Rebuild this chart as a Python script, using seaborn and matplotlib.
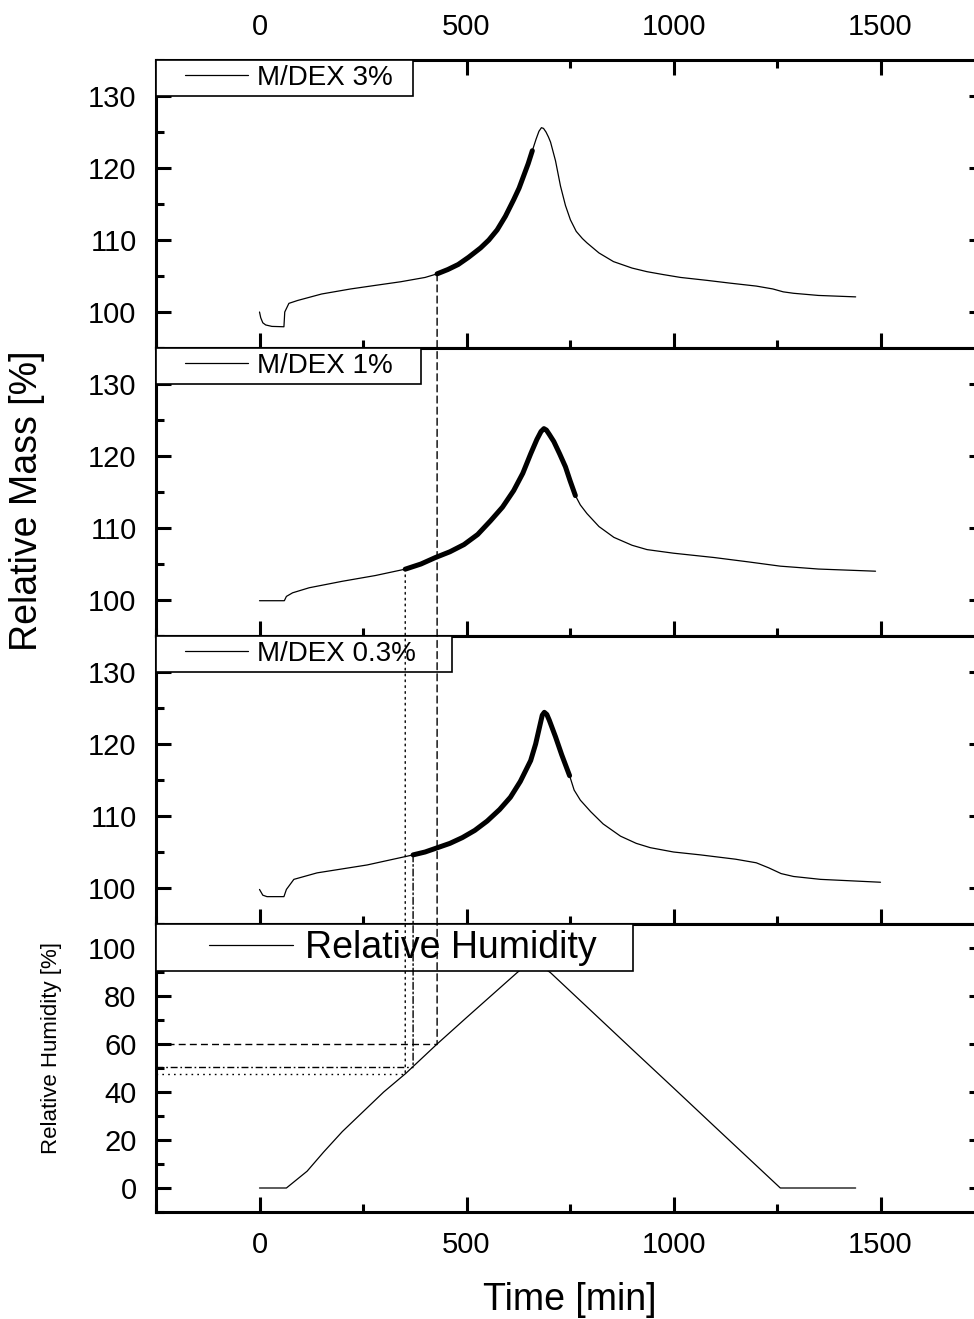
import matplotlib.pyplot as plt
from matplotlib.legend_handler import HandlerLine2D
from matplotlib.lines import Line2D
from matplotlib.patches import ConnectionPatch
from matplotlib.ticker import MultipleLocator
import numpy as np
import seaborn as sns

sns.set_style("ticks")
plt.rcParams['font.family'] = ['Liberation Sans', 'DejaVu Sans']
for k in ["text.color", "axes.labelcolor", "xtick.color", "ytick.color", "axes.edgecolor"]:
    plt.rcParams[k] = "black"

# Dados (tempo em min, massa relativa em %)
t_3 = [0, 3, 8, 15, 30, 59, 61, 71, 92, 150, 220, 280, 341, 400, 429, 455, 480, 505,
       534, 554, 574, 594, 614, 627, 638, 649, 659, 668, 675, 681, 686, 692, 698, 703,
       715, 727, 739, 751, 765, 780, 791, 820, 855, 900, 936, 975, 1017, 1080, 1138,
       1200, 1240, 1265, 1290, 1350, 1440]
m_3 = [100.0, 99.2, 98.5, 98.2, 98.0, 97.95, 100.0, 101.2, 101.6, 102.5, 103.2, 103.7,
       104.2, 104.8, 105.3, 105.9, 106.6, 107.6, 108.9, 110.0, 111.4, 113.3, 115.6,
       117.2, 118.9, 120.6, 122.4, 124.0, 125.1, 125.6, 125.5, 125.0, 124.3, 123.6,
       121.0, 117.5, 114.8, 112.8, 111.2, 110.2, 109.6, 108.2, 107.0, 106.1, 105.6,
       105.2, 104.8, 104.4, 104.0, 103.6, 103.2, 102.8, 102.6, 102.3, 102.1]

t_1 = [0, 30, 60, 65, 80, 120, 200, 280, 353, 390, 425, 460, 494, 527, 558, 587, 614,
       636, 655, 670, 680, 687, 693, 700, 711, 725, 739, 750, 763, 775, 791, 820, 856,
       900, 936, 1000, 1098, 1180, 1258, 1350, 1488]
m_1 = [99.9, 99.9, 99.9, 100.5, 101.0, 101.7, 102.6, 103.4, 104.3, 105.0, 105.9, 106.7,
       107.7, 109.1, 111.0, 112.9, 115.2, 117.6, 120.3, 122.3, 123.4, 123.8, 123.6,
       123.0, 122.0, 120.3, 118.5, 116.6, 114.5, 113.2, 112.0, 110.2, 108.7, 107.6,
       107.0, 106.5, 105.9, 105.3, 104.7, 104.3, 104.0]

t_03 = [0, 8, 18, 59, 65, 83, 139, 260, 371, 400, 430, 460, 490, 520, 550, 580, 606,
        630, 655, 667, 677, 683, 688, 694, 700, 715, 730, 749, 760, 775, 800, 830,
        872, 910, 944, 1000, 1065, 1150, 1200, 1230, 1260, 1290, 1355, 1500]
m_03 = [99.8, 99.0, 98.8, 98.8, 99.8, 101.2, 102.1, 103.2, 104.6, 105.0, 105.6, 106.2,
        107.0, 108.0, 109.3, 110.9, 112.6, 114.8, 117.7, 120.0, 122.5, 124.0,
        124.4, 124.1, 123.3, 121.0, 118.5, 115.6, 113.6, 112.2, 110.6, 108.9, 107.2,
        106.2, 105.6, 105.0, 104.6, 104.0, 103.5, 102.8, 102.0, 101.6, 101.2, 100.8]

# Umidade relativa
t_rh = [0, 65, 115, 155, 200, 300, 353, 429, 500, 622, 660, 703, 800, 900, 1000, 1100,
        1214, 1258, 1300, 1440]
rh = [0, 0, 7, 15, 23.5, 40, 47.7, 60, 71, 89.7, 95, 89.7, 74.0, 57.8, 41.7, 25.5,
      7.1, 0, 0, 0]

labels = ["M/DEX 3%", "M/DEX 1%", "M/DEX 0.3%"]
legend_pad = ["  ", "   ", "    "]
series = [(t_3, m_3), (t_1, m_1), (t_03, m_03)]
fit_start = [429, 352, 371]
fit_end = [659, 763, 749]
ref_styles = [(0, (5, 3)), (0, (1.2, 3)), (0, (5, 2, 1.2, 2))]

W, H = 974, 1319
fig = plt.figure(figsize=(W / 100, H / 100), dpi=100)

left, right = 156, 984
tops = [60, 348, 636, 924]
ph = 288


def make_ax(top):
    return fig.add_axes([left / W, 1 - (top + ph) / H, (right - left) / W, ph / H])


def style_ax(ax, is_top, is_bottom):
    ax.set_xlim(-250, 1750)
    ax.xaxis.set_major_locator(MultipleLocator(500))
    ax.xaxis.set_minor_locator(MultipleLocator(250))
    for s in ax.spines.values():
        s.set_linewidth(2.2)
        s.set_color("black")
    ax.tick_params(which="both", direction="in", bottom=True, left=True, right=True,
                   top=is_top, labeltop=is_top, labelbottom=is_bottom,
                   labelsize=21, pad=14, width=2.2, color="black")
    ax.tick_params(which="major", length=11)
    ax.tick_params(which="minor", length=5.5)
    ax.set_xlabel("")
    ax.set_ylabel("")


def add_legend(ax, text, fs, xpad, hl, bp):
    h = [Line2D([], [], color="black", lw=0.9)]
    leg = ax.legend(h, [text], loc="upper left",
                    bbox_to_anchor=(0, 1), borderaxespad=0, fancybox=False,
                    edgecolor="black", framealpha=1, fontsize=fs, borderpad=bp,
                    handlelength=hl, handletextpad=0.32,
                    handler_map={Line2D: HandlerLine2D(xpad=xpad)})
    leg.get_frame().set_linewidth(1.2)
    return leg


mass_axes = []
for i, ((t, m), lab) in enumerate(zip(series, labels)):
    ax = make_ax(tops[i])
    t = np.array(t)
    m = np.array(m)
    sns.lineplot(x=t, y=m, ax=ax, color="black", linewidth=0.9, estimator=None,
                 sort=False)
    # trecho destacado (regiao do ajuste)
    sel = (t >= fit_start[i]) & (t <= fit_end[i])
    tt = np.concatenate([[fit_start[i]], t[sel], [fit_end[i]]])
    mm = np.interp(tt, t, m)
    sns.lineplot(x=tt, y=mm, ax=ax, color="black", linewidth=3.6, estimator=None,
                 sort=False, solid_capstyle="round", solid_joinstyle="round")
    ax.set_ylim(95, 135)
    ax.yaxis.set_major_locator(MultipleLocator(10))
    ax.yaxis.set_minor_locator(MultipleLocator(5))
    style_ax(ax, i == 0, False)
    add_legend(ax, lab + legend_pad[i], 20, 0.86, 3.13, 0.18)
    mass_axes.append(ax)

ax_rh = make_ax(tops[3])
sns.lineplot(x=t_rh, y=rh, ax=ax_rh, color="black", linewidth=0.9, estimator=None,
             sort=False)
ax_rh.set_ylim(-10, 110)
ax_rh.yaxis.set_major_locator(MultipleLocator(20))
ax_rh.yaxis.set_minor_locator(MultipleLocator(10))
style_ax(ax_rh, False, True)
add_legend(ax_rh, "Relative Humidity   ", 27, 1.25, 3.5, 0.15)

# Linhas de referencia: inicio do ajuste -> umidade correspondente
for i, (t, m) in enumerate(series):
    t0 = fit_start[i]
    m0 = np.interp(t0, t, m)
    r0 = np.interp(t0, t_rh, rh)
    con = ConnectionPatch(xyA=(t0, m0), coordsA=mass_axes[i].transData,
                          xyB=(t0, r0), coordsB=ax_rh.transData,
                          color="black", lw=1.0, linestyle=ref_styles[i], zorder=5)
    fig.add_artist(con)
    ax_rh.plot([-250, t0], [r0, r0], color="black", lw=1.0, linestyle=ref_styles[i])

fig.text(27 / W, 1 - 501 / H, "Relative Mass [%]", rotation=90, fontsize=27,
         ha="center", va="center")
fig.text(52 / W, 1 - 1048 / H, "Relative Humidity [%]", rotation=90, fontsize=16,
         ha="center", va="center")
fig.text(570 / W, 1 - 1300 / H, "Time [min]", fontsize=27, ha="center", va="center")

fig.savefig("out.png", dpi=100)
